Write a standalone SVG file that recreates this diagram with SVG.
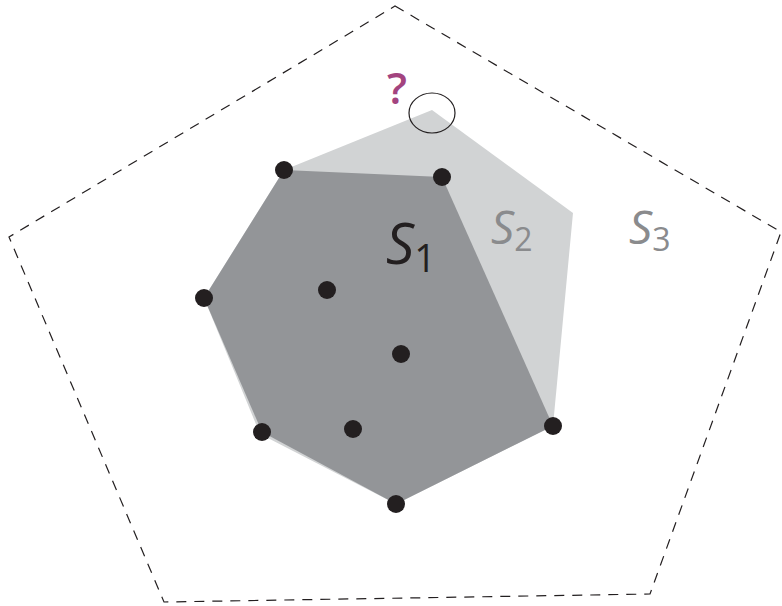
<svg xmlns="http://www.w3.org/2000/svg" width="782" height="606" viewBox="0 0 782 606">
<style>
.dot{fill:#231f20}
.lbl{font-family:"Open Sans","Noto Sans",sans-serif;font-style:italic}
.sub{font-style:normal}
</style>
<rect width="782" height="606" fill="#fff"/>
<g id="S3-region">
<polygon points="395,6 781,232 650,594 164,602 9,237" fill="none" stroke="#231f20" stroke-width="1.2" stroke-dasharray="10,8"/>
</g>
<g id="S2-region">
<polygon points="284,170 432,110 573,213 553,426 396,504 260,434 204,298" fill="#d1d3d4"/>
</g>
<g id="S1-region">
<polygon points="284,170 442,177 553,426 396,504 262,432 204,298" fill="#939598"/>
</g>
<g id="query">
<ellipse cx="432" cy="113" rx="23" ry="20" fill="none" stroke="#231f20" stroke-width="1.2"/>
<text x="387" y="104" font-family="Open Sans, Noto Sans, sans-serif" font-size="44" font-weight="600" fill="#a3447f">?</text>
</g>
<g id="points">
<circle class="dot" cx="284" cy="170" r="9"/>
<circle class="dot" cx="442" cy="177" r="9"/>
<circle class="dot" cx="204" cy="298" r="9"/>
<circle class="dot" cx="327" cy="290" r="9"/>
<circle class="dot" cx="401" cy="354" r="9"/>
<circle class="dot" cx="262" cy="432" r="9"/>
<circle class="dot" cx="353" cy="429" r="9"/>
<circle class="dot" cx="553" cy="426" r="9"/>
<circle class="dot" cx="396" cy="504" r="9"/>
</g>
<g id="labels">
<text class="lbl" x="386" y="264" font-size="56" fill="#231f20">S<tspan class="sub" font-size="38" dy="8">1</tspan></text>
<text class="lbl" x="491" y="244" font-size="46" fill="#8a8b8d">S<tspan class="sub" font-size="32" dy="7">2</tspan></text>
<text class="lbl" x="629" y="244" font-size="46" fill="#8a8b8d">S<tspan class="sub" font-size="32" dy="7">3</tspan></text>
</g>
</svg>
